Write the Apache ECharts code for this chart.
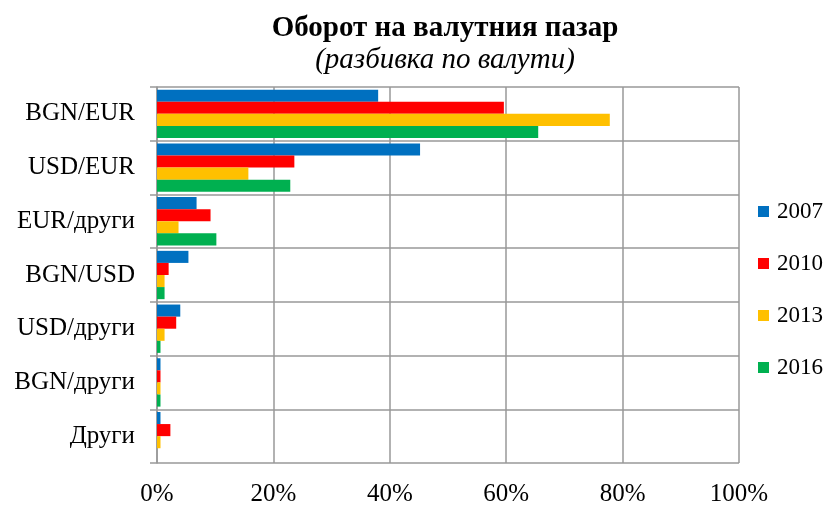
<!DOCTYPE html>
<html>
<head>
<meta charset="utf-8">
<script src="https://cdn.jsdelivr.net/npm/echarts@6/dist/echarts.min.js"></script>
<style>
    html, body { margin: 0; padding: 0; background: #fff; }
    #chart { width: 828px; height: 507px; }
</style>
</head>
<body>
<div id="chart"></div>
<script>
var categories = ['BGN/EUR', 'USD/EUR', 'EUR/други', 'BGN/USD', 'USD/други', 'BGN/други', 'Други'];
var years = ['2007', '2010', '2013', '2016'];
// дял в %, по категории
var v2007 = [38.0, 45.2, 6.8, 5.4, 4.0, 0.6, 0.6];
var v2010 = [59.6, 23.6, 9.2, 2.0, 3.3, 0.6, 2.3];
var v2013 = [77.8, 15.7, 3.7, 1.3, 1.3, 0.6, 0.6];
var v2016 = [65.5, 22.9, 10.2, 1.3, 0.6, 0.6, 0];
var xTicks = [0, 20, 40, 60, 80, 100];

(function () {
    var colors = ['#0070C0', '#FF0000', '#FFC000', '#00B050'];
    var font = "'Liberation Serif', 'Times New Roman', serif";
    var values = [v2007, v2010, v2013, v2016];

    var series = years.map(function (y, i) {
        return {
            name: y,
            type: 'bar',
            barGap: 0,
            barCategoryGap: '10%',
            data: values[i]
        };
    });

    var option = {
        color: colors,
        animation: false,
        title: {
            text: 'Оборот на валутния пазар',
            subtext: '(разбивка по валути)',
            left: 440,
            textAlign: 'center',
            top: 9,
            itemGap: 3,
            textStyle: {
                fontFamily: font,
                fontSize: 29,
                fontWeight: 'bold',
                color: '#000'
            },
            subtextStyle: {
                fontFamily: font,
                fontSize: 29,
                fontStyle: 'italic',
                color: '#000'
            }
        },
        legend: {
            orient: 'vertical',
            left: 753,
            top: 195,
            icon: 'rect',
            itemWidth: 11,
            itemHeight: 11,
            itemGap: 29,
            data: years,
            textStyle: {
                fontFamily: font,
                fontSize: 23,
                lineHeight: 22,
                color: '#000',
                padding: [0, 0, 0, 3]
            }
        },
        grid: {
            left: 157,
            right: 89,
            top: 87,
            bottom: 40
        },
        xAxis: {
            type: 'value',
            min: 0,
            max: 100,
            interval: 20,
            axisLine: { show: false },
            axisTick: { show: false },
            axisLabel: {
                margin: 19,
                fontFamily: font,
                fontSize: 25,
                color: '#000',
                formatter: function (v) {
                    return xTicks.indexOf(v) >= 0 ? v + '%' : '';
                }
            },
            splitLine: {
                show: true,
                lineStyle: { color: '#999', width: 1.5 }
            }
        },
        yAxis: {
            type: 'category',
            inverse: true,
            data: categories,
            axisLine: {
                show: true,
                lineStyle: { color: '#999', width: 1.5 }
            },
            axisTick: {
                show: true,
                length: 7,
                lineStyle: { color: '#999', width: 1.5 }
            },
            axisLabel: {
                margin: 22,
                fontFamily: font,
                fontSize: 25,
                color: '#000'
            },
            splitLine: {
                show: true,
                lineStyle: { color: '#999', width: 1.5 }
            }
        },
        series: series
    };

    var myChart = echarts.init(document.getElementById('chart'));
    myChart.setOption(option);

    window.onresize = function () {
        myChart.resize();
    };
})();
</script>
</body>
</html>
